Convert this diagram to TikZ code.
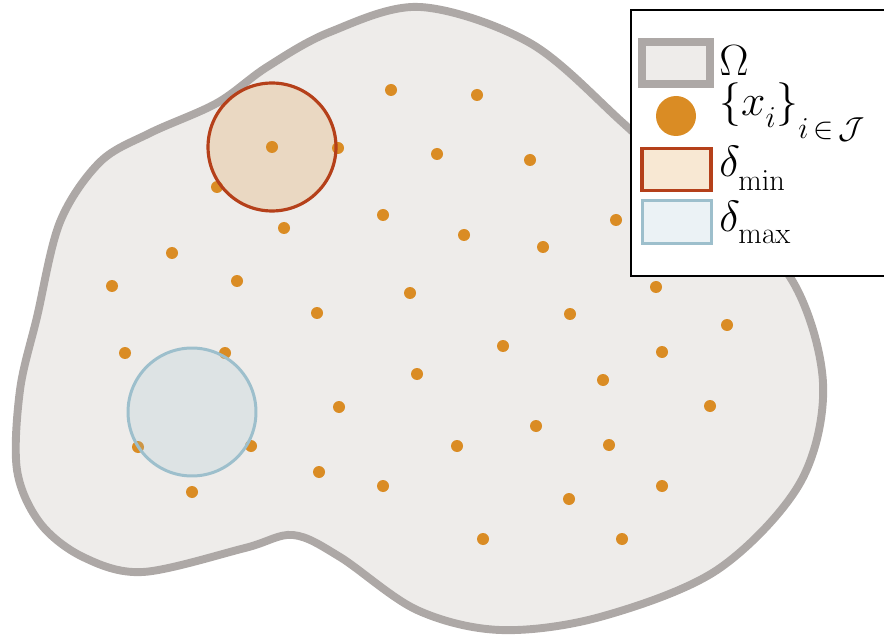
\documentclass[tikz,border=0pt]{standalone}
\usepackage{tikz}
\usetikzlibrary{positioning}
\usepackage{amsmath}
\definecolor{omegaline}{HTML}{ADA8A6}
\definecolor{omegafill}{HTML}{EEECEA}
\definecolor{ptcol}{HTML}{DA8C24}
\definecolor{mincol}{HTML}{B5401A}
\definecolor{maxcol}{HTML}{9DBFCC}
\newcommand{\lowsub}[2]{\lower#1\hbox{$\scriptstyle #2$}}

\begin{document}
\begin{tikzpicture}[
  x=0.02cm, y=-0.02cm,
  pt/.style={circle, fill=ptcol, inner sep=0pt, minimum size=0.24cm},
  mincirc/.style={circle, draw=mincol, line width=1.8pt, fill=ptcol, fill opacity=0.2, draw opacity=1, minimum size=2.56cm, inner sep=0pt},
  maxcirc/.style={circle, draw=maxcol, line width=1.7pt, fill=maxcol, fill opacity=0.2, draw opacity=1, minimum size=2.56cm, inner sep=0pt},
  keybox/.style={rectangle, inner sep=0pt, minimum width=1.38cm, minimum height=0.85cm},
  lbl/.style={anchor=base west, inner sep=0pt, font=\fontsize{24}{28}\selectfont},
]
\useasboundingbox (0,0) rectangle (884,641);

% domain
\draw[line width=4.5pt, draw=omegaline, fill=omegafill]
  plot[smooth cycle, tension=0.55] coordinates {
    (420,7) (530,43) (623,123) (705,200) (790,277) (823,383) (800,483)
    (717,570) (600,617) (500,630) (417,610) (340,557) (293,535)
    (245,548) (143,572) (83,557) (40,523) (17,470) (20,390) (37,317)
    (60,222) (100,162) (150,133) (217,103) (267,67) (330,32)};

% sample points
\foreach \x/\y [count=\i] in {391/90, 477/95, 272/147, 338/148, 437/154, 530/160,
    217/187, 383/215, 284/228, 464/235, 543/247, 616/220, 172/253, 237/281,
    112/286, 410/293, 317/313, 570/314, 656/287, 727/325, 125/353, 225/353,
    503/346, 662/352, 417/374, 603/380, 339/407, 710/406, 138/447, 251/446,
    536/426, 457/446, 609/445, 319/472, 383/486, 662/486, 192/492, 569/499,
    483/539, 622/539}
  \node[pt] (x\i) at (\x,\y) {};

% separation radii
\node[mincirc] (dmin) at (272,147) {};
\node[maxcirc] (dmax) at (192,412) {};

% legend
\draw[line width=1.1pt, fill=white] (631,10) rectangle (892,276);
\node[keybox, draw=omegaline, line width=4.5pt, fill=omegafill, minimum width=1.36cm, minimum height=0.84cm] (komega) at (676,63) {};
\node[circle, fill=ptcol, inner sep=0pt, minimum size=0.8cm] (kpts) at (676,116) {};
\node[keybox, draw=mincol, line width=1.8pt, fill=ptcol!20] (kmin) at (676.5,169.5) {};
\node[keybox, draw=maxcol, line width=1.7pt, fill=maxcol!20] (kmax) at (676.5,222) {};

\node[lbl] (lomega) at (719,76) {$\Omega$};
\node[lbl] (lpts) at (719,116) {$\{x_{\lowsub{3pt}{i}}\}_{\lowsub{9pt}{i\,\in\,\mathcal{J}}}$};
\node[lbl] (lmin) at (719,177) {$\delta_{\lowsub{4pt}{\mathrm{min}}}$};
\node[lbl] (lmax) at (719,232) {$\delta_{\lowsub{3pt}{\mathrm{max}}}$};

\end{tikzpicture}
\end{document}
